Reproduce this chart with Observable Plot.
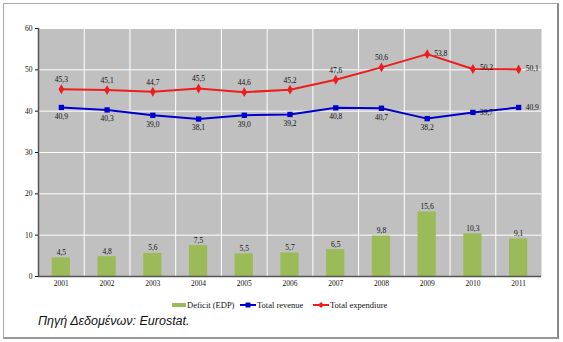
<!DOCTYPE html>
<html><head><meta charset="utf-8">
<script src="https://cdn.jsdelivr.net/npm/d3@7"></script>
<script src="https://cdn.jsdelivr.net/npm/@observablehq/plot@0.6"></script>
<style>
body{margin:0;background:#fff;}
#wrap{position:relative;width:563px;height:342px;overflow:hidden;font-family:"Liberation Serif","DejaVu Serif",serif;}
#frame{position:absolute;left:3px;top:3px;width:553px;height:333px;border:1px solid #a8a8a8;border-right:2px solid #888;border-bottom:2px solid #999;}
#chart{position:absolute;left:0;top:0;}
#legend{position:absolute;left:0;top:300px;width:563px;font-size:8.5px;color:#111;}
.li{position:absolute;top:0;display:flex;align-items:center;height:10px;white-space:nowrap;}
#caption{position:absolute;left:38px;top:314px;font-family:"Liberation Sans",Arial,sans-serif;font-style:italic;font-size:12.5px;color:#111;}
</style></head>
<body>
<div id="wrap"><div id="frame"></div><div id="chart"></div>
<div id="legend"></div>
<div id="caption">Πηγή Δεδομένων: Eurostat.</div>
</div>
<script>
const years = [2001,2002,2003,2004,2005,2006,2007,2008,2009,2010,2011];
const deficit = [4.5,4.8,5.6,7.5,5.5,5.7,6.5,9.8,15.6,10.3,9.1];
const revenue = [40.9,40.3,39.0,38.1,39.0,39.2,40.8,40.7,38.2,39.7,40.9];
const expenditure = [45.3,45.1,44.7,45.5,44.6,45.2,47.6,50.6,53.8,50.2,50.1];
const yTicks = [0,10,20,30,40,50,60];
const seriesNames = ["Deficit (EDP)","Total revenue","Total expendiure"];
const colors = {deficit:"#9bbb59", revenue:"#0000cc", expenditure:"#ee1c1c"};

const data = years.map((y,i)=>({year:y, deficit:deficit[i], revenue:revenue[i], expenditure:expenditure[i]}));
const fmt = v => v.toFixed(1).replace(".", ",");
const expRight = new Set([2009,2010,2011]);
const revRight = new Set([2010,2011]);

const chart = Plot.plot({
  width:563, height:295,
  marginLeft:38, marginRight:22, marginTop:28, marginBottom:19,
  style:{fontFamily:'"Liberation Serif","DejaVu Serif",serif', fontSize:"7.5px", background:"transparent", color:"#111"},
  x:{domain:[2000.5,2011.5], ticks:years, tickFormat:d=>String(d), tickSize:0, tickPadding:4, label:null},
  y:{domain:[0,60], ticks:yTicks, tickSize:3, tickPadding:3, label:null},
  marks:[
    Plot.frame({fill:"#c0c0c0", stroke:null}),
    Plot.gridY(yTicks, {stroke:"#fff", strokeOpacity:1, strokeWidth:1}),
    Plot.ruleX(years.slice(1), {x:d=>d-0.5, stroke:"#fff", strokeWidth:1}),
    Plot.rectY(data, {x1:d=>d.year-0.2, x2:d=>d.year+0.2, y:"deficit", fill:colors.deficit}),
    Plot.text(data, {x:"year", y:"deficit", text:d=>fmt(d.deficit), lineAnchor:"bottom", dy:-3, fill:"#111"}),
    Plot.line(data, {x:"year", y:"revenue", stroke:colors.revenue, strokeWidth:2}),
    Plot.dot(data, {x:"year", y:"revenue", symbol:"square", r:3, fill:colors.revenue, stroke:null}),
    Plot.line(data, {x:"year", y:"expenditure", stroke:colors.expenditure, strokeWidth:2}),
    Plot.dot(data, {x:"year", y:"expenditure", symbol:"diamond", r:3, fill:colors.expenditure, stroke:null}),
    Plot.text(data.filter(d=>!expRight.has(d.year)), {x:"year", y:"expenditure", text:d=>fmt(d.expenditure), lineAnchor:"bottom", dy:-7, fill:"#111"}),
    Plot.text(data.filter(d=>expRight.has(d.year)), {x:"year", y:"expenditure", text:d=>fmt(d.expenditure), textAnchor:"start", dx:7, dy:-1, fill:"#111"}),
    Plot.text(data.filter(d=>!revRight.has(d.year)), {x:"year", y:"revenue", text:d=>fmt(d.revenue), lineAnchor:"top", dy:6, fill:"#111"}),
    Plot.text(data.filter(d=>revRight.has(d.year)), {x:"year", y:"revenue", text:d=>fmt(d.revenue), textAnchor:"start", dx:7, fill:"#111"}),
    Plot.ruleY([0], {stroke:"#555", strokeWidth:1.5}),
    Plot.ruleX([2000.5], {stroke:"#555", strokeWidth:1.5})
  ]
});
document.getElementById("chart").appendChild(chart);

const legend = document.getElementById("legend");
const items = [
  {left:172, name:seriesNames[0], sw:`<svg width="14" height="6"><rect x="0" y="1" width="14" height="4" fill="${colors.deficit}"/></svg>`},
  {left:240, name:seriesNames[1], sw:`<svg width="16" height="8"><line x1="0" y1="4" x2="16" y2="4" stroke="${colors.revenue}" stroke-width="2"/><rect x="5.5" y="1.5" width="5" height="5" fill="${colors.revenue}"/></svg>`},
  {left:313, name:seriesNames[2], sw:`<svg width="16" height="8"><line x1="0" y1="4" x2="16" y2="4" stroke="${colors.expenditure}" stroke-width="2"/><path d="M8,1 L11,4 L8,7 L5,4Z" fill="${colors.expenditure}"/></svg>`}
];
for (const it of items){
  const d = document.createElement("div");
  d.className="li"; d.style.left=it.left+"px";
  d.innerHTML = it.sw + `<span style="margin-left:1px">${it.name}</span>`;
  legend.appendChild(d);
}
</script>
</body></html>
